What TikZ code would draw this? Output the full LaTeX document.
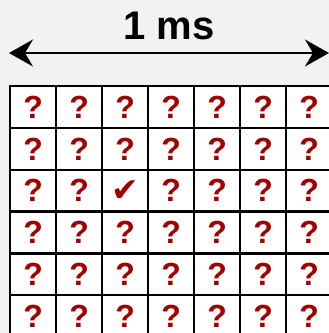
\documentclass[tikz,border=0pt]{standalone}
\usepackage{fontspec}
\setmainfont{Liberation Sans}
\newfontfamily\symfont{DejaVu Sans}
\usepackage{xcolor}
\usetikzlibrary{arrows.meta, positioning}
\definecolor{slotred}{HTML}{A00000}
\definecolor{pagegray}{HTML}{F2F2F2}

\begin{document}
\begin{tikzpicture}[x=1pt, y=1pt,
    slotcell/.style={draw=black, line width=2.4pt, fill=white, minimum width=46pt, minimum height=41.8pt, inner sep=0pt, anchor=north west},
    slotmark/.style={text=slotred, inner sep=0pt, font=\fontsize{32}{32}\selectfont\bfseries}]
  \useasboundingbox (0,0) rectangle (329,333);
  \fill[pagegray] (0,0) rectangle (329,333);
  \clip (0,0) rectangle (329,333);

  % time span of one slot
  \coordinate (spanl) at (9,280);
  \coordinate (spanr) at (329,280);
  \draw[line width=1.6pt, {Stealth[length=24pt, width=27pt, inset=8pt]}-{Stealth[length=24pt, width=27pt, inset=8pt]}] (spanl) -- (spanr);
  \node[font=\fontsize{40}{40}\selectfont\bfseries, anchor=base] (span) at (169,294) {1 ms};

  % resource grid
  \foreach \c in {0,...,6} {
    \foreach \r in {0,...,5} {
      \node[slotcell] (cell\c\r) at (9+46*\c, 248-41.8*\r) {};
      \ifnum\c\r=22
        \node[text=slotred, inner sep=0pt, font=\symfont\fontsize{33}{33}\selectfont] (check) at (cell\c\r.center) {✔};
      \else
        \node[slotmark] (mark\c\r) at (cell\c\r.center) {?};
      \fi
    }
  }
\end{tikzpicture}
\end{document}
